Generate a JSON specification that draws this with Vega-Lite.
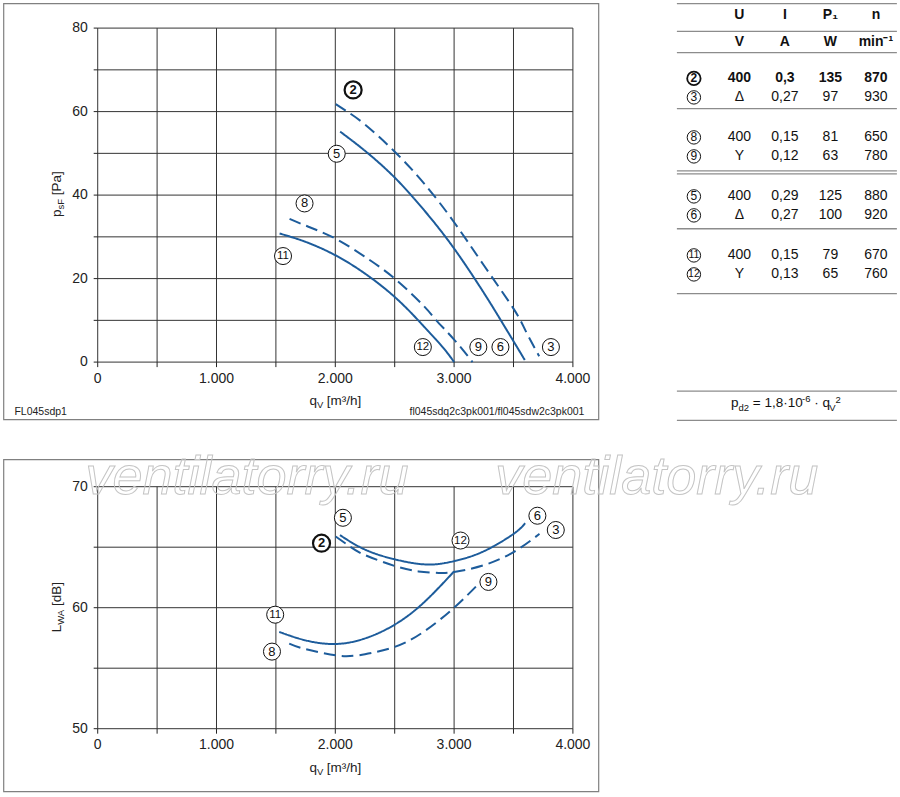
{
  "$schema": "https://vega.github.io/schema/vega-lite/v6.json",
  "background": "white",
  "padding": {"left": 2.4, "top": 2.4, "right": 2, "bottom": 2},
  "autosize": {"type": "pad"},
  "spacing": 29,
  "datasets": {
    "grid_q": [{"q": 0}, {"q": 500}, {"q": 1000}, {"q": 1500}, {"q": 2000}, {"q": 2500}, {"q": 3000}, {"q": 3500}, {"q": 4000}],
    "grid_p": [{"p": 0}, {"p": 10}, {"p": 20}, {"p": 30}, {"p": 40}, {"p": 50}, {"p": 60}, {"p": 70}, {"p": 80}],
    "grid_l": [{"L": 50}, {"L": 55}, {"L": 60}, {"L": 65}, {"L": 70}],
    "q_ticks": [{"q": 0, "label": "0"}, {"q": 1000, "label": "1.000"}, {"q": 2000, "label": "2.000"}, {"q": 3000, "label": "3.000"}, {"q": 4000, "label": "4.000"}],
    "p_ticks": [{"p": 0, "label": "0"}, {"p": 20, "label": "20"}, {"p": 40, "label": "40"}, {"p": 60, "label": "60"}, {"p": 80, "label": "80"}],
    "l_ticks": [{"L": 50, "label": "50"}, {"L": 60, "label": "60"}, {"L": 70, "label": "70"}],
    "pressure": [
      {"curve": "2-3", "model": "sdq", "q": 2004, "p": 61.8},
      {"curve": "2-3", "model": "sdq", "q": 2100, "p": 60.0},
      {"curve": "2-3", "model": "sdq", "q": 2250, "p": 56.9},
      {"curve": "2-3", "model": "sdq", "q": 2500, "p": 50.4},
      {"curve": "2-3", "model": "sdq", "q": 2750, "p": 42.7},
      {"curve": "2-3", "model": "sdq", "q": 3000, "p": 33.5},
      {"curve": "2-3", "model": "sdq", "q": 3250, "p": 23.2},
      {"curve": "2-3", "model": "sdq", "q": 3500, "p": 12.8},
      {"curve": "2-3", "model": "sdq", "q": 3600, "p": 7.6},
      {"curve": "2-3", "model": "sdq", "q": 3716, "p": 1.4},
      {"curve": "5-6", "model": "sdw", "q": 2041, "p": 55.2},
      {"curve": "5-6", "model": "sdw", "q": 2250, "p": 50.6},
      {"curve": "5-6", "model": "sdw", "q": 2500, "p": 44.2},
      {"curve": "5-6", "model": "sdw", "q": 2750, "p": 36.3},
      {"curve": "5-6", "model": "sdw", "q": 3000, "p": 27.2},
      {"curve": "5-6", "model": "sdw", "q": 3250, "p": 16.6},
      {"curve": "5-6", "model": "sdw", "q": 3400, "p": 9.7},
      {"curve": "5-6", "model": "sdw", "q": 3500, "p": 5.0},
      {"curve": "5-6", "model": "sdw", "q": 3595, "p": 0.5},
      {"curve": "8-9", "model": "sdq", "q": 1615, "p": 34.3},
      {"curve": "8-9", "model": "sdq", "q": 1750, "p": 32.7},
      {"curve": "8-9", "model": "sdq", "q": 2000, "p": 29.6},
      {"curve": "8-9", "model": "sdq", "q": 2250, "p": 25.2},
      {"curve": "8-9", "model": "sdq", "q": 2500, "p": 20.0},
      {"curve": "8-9", "model": "sdq", "q": 2750, "p": 13.3},
      {"curve": "8-9", "model": "sdq", "q": 2850, "p": 10.0},
      {"curve": "8-9", "model": "sdq", "q": 3000, "p": 5.4},
      {"curve": "8-9", "model": "sdq", "q": 3155, "p": 0.0},
      {"curve": "11-12", "model": "sdw", "q": 1531, "p": 30.8},
      {"curve": "11-12", "model": "sdw", "q": 1750, "p": 28.8},
      {"curve": "11-12", "model": "sdw", "q": 2000, "p": 25.6},
      {"curve": "11-12", "model": "sdw", "q": 2250, "p": 21.2},
      {"curve": "11-12", "model": "sdw", "q": 2500, "p": 15.6},
      {"curve": "11-12", "model": "sdw", "q": 2685, "p": 10.4},
      {"curve": "11-12", "model": "sdw", "q": 2750, "p": 8.4},
      {"curve": "11-12", "model": "sdw", "q": 2900, "p": 3.7},
      {"curve": "11-12", "model": "sdw", "q": 3000, "p": 0.0}
    ],
    "noise": [
      {"curve": "2-3", "model": "sdq", "q": 2003, "L": 65.88},
      {"curve": "2-3", "model": "sdq", "q": 2124, "L": 65.05},
      {"curve": "2-3", "model": "sdq", "q": 2250, "L": 64.35},
      {"curve": "2-3", "model": "sdq", "q": 2500, "L": 63.45},
      {"curve": "2-3", "model": "sdq", "q": 2700, "L": 63.0},
      {"curve": "2-3", "model": "sdq", "q": 2870, "L": 62.87},
      {"curve": "2-3", "model": "sdq", "q": 3000, "L": 62.95},
      {"curve": "2-3", "model": "sdq", "q": 3247, "L": 63.5},
      {"curve": "2-3", "model": "sdq", "q": 3500, "L": 64.6},
      {"curve": "2-3", "model": "sdq", "q": 3719, "L": 66.1},
      {"curve": "5-6", "model": "sdw", "q": 2039, "L": 66.0},
      {"curve": "5-6", "model": "sdw", "q": 2250, "L": 64.8},
      {"curve": "5-6", "model": "sdw", "q": 2500, "L": 64.0},
      {"curve": "5-6", "model": "sdw", "q": 2770, "L": 63.57},
      {"curve": "5-6", "model": "sdw", "q": 3000, "L": 63.85},
      {"curve": "5-6", "model": "sdw", "q": 3247, "L": 64.65},
      {"curve": "5-6", "model": "sdw", "q": 3500, "L": 66.1},
      {"curve": "5-6", "model": "sdw", "q": 3598, "L": 66.98},
      {"curve": "8-9", "model": "sdq", "q": 1612, "L": 57.03},
      {"curve": "8-9", "model": "sdq", "q": 1750, "L": 56.57},
      {"curve": "8-9", "model": "sdq", "q": 2003, "L": 56.07},
      {"curve": "8-9", "model": "sdq", "q": 2124, "L": 56.0},
      {"curve": "8-9", "model": "sdq", "q": 2250, "L": 56.15},
      {"curve": "8-9", "model": "sdq", "q": 2500, "L": 56.76},
      {"curve": "8-9", "model": "sdq", "q": 2742, "L": 58.0},
      {"curve": "8-9", "model": "sdq", "q": 3000, "L": 60.0},
      {"curve": "8-9", "model": "sdq", "q": 3219, "L": 62.1},
      {"curve": "11-12", "model": "sdw", "q": 1528, "L": 58.0},
      {"curve": "11-12", "model": "sdw", "q": 1750, "L": 57.3},
      {"curve": "11-12", "model": "sdw", "q": 2000, "L": 57.0},
      {"curve": "11-12", "model": "sdw", "q": 2250, "L": 57.46},
      {"curve": "11-12", "model": "sdw", "q": 2500, "L": 58.6},
      {"curve": "11-12", "model": "sdw", "q": 2742, "L": 60.4},
      {"curve": "11-12", "model": "sdw", "q": 3000, "L": 63.0}
    ],
    "p_labels": [
      {"id": "2", "q": 2150, "p": 65.2, "rated": "yes"},
      {"id": "5", "q": 2012, "p": 49.9, "rated": "no"},
      {"id": "8", "q": 1741, "p": 38.0, "rated": "no"},
      {"id": "11", "q": 1560, "p": 25.4, "rated": "no"},
      {"id": "12", "q": 2737, "p": 3.6, "rated": "no"},
      {"id": "9", "q": 3204, "p": 3.6, "rated": "no"},
      {"id": "6", "q": 3390, "p": 3.6, "rated": "no"},
      {"id": "3", "q": 3815, "p": 3.6, "rated": "no"}
    ],
    "l_labels": [
      {"id": "2", "q": 1884, "L": 65.33, "rated": "yes"},
      {"id": "5", "q": 2064, "L": 67.43, "rated": "no"},
      {"id": "12", "q": 3054, "L": 65.55, "rated": "no"},
      {"id": "6", "q": 3701, "L": 67.6, "rated": "no"},
      {"id": "3", "q": 3856, "L": 66.42, "rated": "no"},
      {"id": "9", "q": 3289, "L": 62.13, "rated": "no"},
      {"id": "11", "q": 1494, "L": 59.42, "rated": "no"},
      {"id": "8", "q": 1467, "L": 56.37, "rated": "no"}
    ],
    "p_xtitle": [
      {"text": "q", "q": 1782, "p": -10.3, "part": "main"},
      {"text": "V", "q": 1845, "p": -10.97, "part": "sub"},
      {"text": "[m³/h]", "q": 1927.5, "p": -10.3, "part": "main"}
    ],
    "p_ytitle": [
      {"text": "p", "q": -308, "p": 34.73, "part": "main"},
      {"text": "sF", "q": -287, "p": 36.53, "part": "sub"},
      {"text": "[Pa]", "q": -308, "p": 39.95, "part": "main"}
    ],
    "p_notes": [
      {"text": "FL045sdp1", "q": -701, "p": -12.65, "side": "left"},
      {"text": "fl045sdq2c3pk001/fl045sdw2c3pk001", "q": 4097, "p": -12.65, "side": "right"}
    ],
    "l_xtitle": [
      {"text": "q", "q": 1782, "L": 46.44, "part": "main"},
      {"text": "V", "q": 1845, "L": 46.21, "part": "sub"},
      {"text": "[m³/h]", "q": 1927.5, "L": 46.44, "part": "main"}
    ],
    "l_ytitle": [
      {"text": "L", "q": -308, "L": 57.96, "part": "main"},
      {"text": "WA", "q": -287, "L": 58.58, "part": "sub"},
      {"text": "[dB]", "q": -308, "L": 60.15, "part": "main"}
    ],
    "watermark": [
      {"text": "ventilatorry.ru", "q": -103.5, "L": 69.36},
      {"text": "ventilatorry.ru", "q": 3346, "L": 69.36}
    ],
    "table_lines": [{"r": -0.6}, {"r": 0.82}, {"r": 1.913}, {"r": 4.785}, {"r": 7.97}, {"r": 8.13}, {"r": 10.94}, {"r": 14.27}, {"r": 19.27}, {"r": 20.77}],
    "table_ids": [
      {"id": "2", "col": 0, "r": 3.231, "rated": "yes"},
      {"id": "3", "col": 0, "r": 4.205, "rated": "no"},
      {"id": "8", "col": 0, "r": 6.256, "rated": "no"},
      {"id": "9", "col": 0, "r": 7.231, "rated": "no"},
      {"id": "5", "col": 0, "r": 9.282, "rated": "no"},
      {"id": "6", "col": 0, "r": 10.256, "rated": "no"},
      {"id": "11", "col": 0, "r": 12.308, "rated": "no"},
      {"id": "12", "col": 0, "r": 13.282, "rated": "no"}
    ],
    "table_cells": [
      {"col": 1, "r": 0, "text": "U", "kind": "head"},
      {"col": 2, "r": 0, "text": "I", "kind": "head"},
      {"col": 3, "r": 0, "text": "P₁", "kind": "head"},
      {"col": 4, "r": 0, "text": "n", "kind": "head"},
      {"col": 1, "r": 1.385, "text": "V", "kind": "head"},
      {"col": 2, "r": 1.385, "text": "A", "kind": "head"},
      {"col": 3, "r": 1.385, "text": "W", "kind": "head"},
      {"col": 4, "r": 1.385, "text": "min⁻¹", "kind": "head"},
      {"col": 1, "r": 3.231, "text": "400", "kind": "rated"},
      {"col": 2, "r": 3.231, "text": "0,3", "kind": "rated"},
      {"col": 3, "r": 3.231, "text": "135", "kind": "rated"},
      {"col": 4, "r": 3.231, "text": "870", "kind": "rated"},
      {"col": 1, "r": 4.205, "text": "Δ", "kind": "plain"},
      {"col": 2, "r": 4.205, "text": "0,27", "kind": "plain"},
      {"col": 3, "r": 4.205, "text": "97", "kind": "plain"},
      {"col": 4, "r": 4.205, "text": "930", "kind": "plain"},
      {"col": 1, "r": 6.256, "text": "400", "kind": "plain"},
      {"col": 2, "r": 6.256, "text": "0,15", "kind": "plain"},
      {"col": 3, "r": 6.256, "text": "81", "kind": "plain"},
      {"col": 4, "r": 6.256, "text": "650", "kind": "plain"},
      {"col": 1, "r": 7.231, "text": "Y", "kind": "plain"},
      {"col": 2, "r": 7.231, "text": "0,12", "kind": "plain"},
      {"col": 3, "r": 7.231, "text": "63", "kind": "plain"},
      {"col": 4, "r": 7.231, "text": "780", "kind": "plain"},
      {"col": 1, "r": 9.282, "text": "400", "kind": "plain"},
      {"col": 2, "r": 9.282, "text": "0,29", "kind": "plain"},
      {"col": 3, "r": 9.282, "text": "125", "kind": "plain"},
      {"col": 4, "r": 9.282, "text": "880", "kind": "plain"},
      {"col": 1, "r": 10.256, "text": "Δ", "kind": "plain"},
      {"col": 2, "r": 10.256, "text": "0,27", "kind": "plain"},
      {"col": 3, "r": 10.256, "text": "100", "kind": "plain"},
      {"col": 4, "r": 10.256, "text": "920", "kind": "plain"},
      {"col": 1, "r": 12.308, "text": "400", "kind": "plain"},
      {"col": 2, "r": 12.308, "text": "0,15", "kind": "plain"},
      {"col": 3, "r": 12.308, "text": "79", "kind": "plain"},
      {"col": 4, "r": 12.308, "text": "670", "kind": "plain"},
      {"col": 1, "r": 13.282, "text": "Y", "kind": "plain"},
      {"col": 2, "r": 13.282, "text": "0,13", "kind": "plain"},
      {"col": 3, "r": 13.282, "text": "65", "kind": "plain"},
      {"col": 4, "r": 13.282, "text": "760", "kind": "plain"}
    ],
    "formula": [
      {"text": "p", "col": 0.813, "r": 20.1, "part": "main"},
      {"text": "d2", "col": 0.978, "r": 20.29, "part": "sub"},
      {"text": "= 1,8·10", "col": 1.295, "r": 20.1, "part": "main"},
      {"text": "-6", "col": 2.376, "r": 19.8, "part": "sub"},
      {"text": "· q", "col": 2.644, "r": 20.1, "part": "main"},
      {"text": "V", "col": 2.974, "r": 20.29, "part": "sub"},
      {"text": "2", "col": 3.112, "r": 19.88, "part": "sub"}
    ]
  },
  "vconcat": [
    {
      "spacing": 76.5,
      "hconcat": [
        {
          "width": 595,
          "height": 416,
          "layer": [
            {"data": {"name": "grid_q"}, "mark": {"type": "rule", "color": "#333333", "strokeWidth": 1},
              "encoding": {
                "x": {"field": "q", "type": "quantitative", "scale": {"domain": [-793.8, 4214.6], "nice": false, "zero": false}, "axis": null},
                "y": {"datum": 0, "type": "quantitative", "scale": {"domain": [-13.725, 85.916], "nice": false, "zero": false}, "axis": null},
                "y2": {"datum": 80}}},
            {"data": {"name": "grid_p"}, "mark": {"type": "rule", "color": "#333333", "strokeWidth": 1},
              "encoding": {
                "y": {"field": "p", "type": "quantitative", "scale": {"domain": [-13.725, 85.916], "nice": false, "zero": false}, "axis": null},
                "x": {"datum": 0, "type": "quantitative", "scale": {"domain": [-793.8, 4214.6], "nice": false, "zero": false}, "axis": null},
                "x2": {"datum": 4000}}},
            {"data": {"name": "grid_q"}, "mark": {"type": "rule", "color": "#222222", "strokeWidth": 1},
              "encoding": {
                "x": {"field": "q", "type": "quantitative", "scale": {"domain": [-793.8, 4214.6], "nice": false, "zero": false}, "axis": null},
                "y": {"datum": 0, "type": "quantitative", "scale": {"domain": [-13.725, 85.916], "nice": false, "zero": false}, "axis": null},
                "y2": {"datum": -1.2}}},
            {"data": {"name": "grid_p"}, "mark": {"type": "rule", "color": "#222222", "strokeWidth": 1},
              "encoding": {
                "y": {"field": "p", "type": "quantitative", "scale": {"domain": [-13.725, 85.916], "nice": false, "zero": false}, "axis": null},
                "x": {"datum": 0, "type": "quantitative", "scale": {"domain": [-793.8, 4214.6], "nice": false, "zero": false}, "axis": null},
                "x2": {"datum": -33.7}}},
            {"data": {"name": "q_ticks"}, "mark": {"type": "text", "fontSize": 14, "color": "#222222", "align": "center", "baseline": "middle"},
              "encoding": {
                "x": {"field": "q", "type": "quantitative", "scale": {"domain": [-793.8, 4214.6], "nice": false, "zero": false}, "axis": null},
                "y": {"datum": -4.14, "type": "quantitative", "scale": {"domain": [-13.725, 85.916], "nice": false, "zero": false}, "axis": null},
                "text": {"field": "label"}}},
            {"data": {"name": "p_ticks"}, "mark": {"type": "text", "fontSize": 14, "color": "#222222", "align": "right", "baseline": "middle"},
              "encoding": {
                "y": {"field": "p", "type": "quantitative", "scale": {"domain": [-13.725, 85.916], "nice": false, "zero": false}, "axis": null},
                "x": {"datum": -84.2, "type": "quantitative", "scale": {"domain": [-793.8, 4214.6], "nice": false, "zero": false}, "axis": null},
                "text": {"field": "label"}}},
            {"data": {"name": "pressure"}, "mark": {"type": "line", "interpolate": "natural", "color": "#1d5c9b", "strokeWidth": 2},
              "encoding": {
                "x": {"field": "q", "type": "quantitative", "scale": {"domain": [-793.8, 4214.6], "nice": false, "zero": false}, "axis": null},
                "y": {"field": "p", "type": "quantitative", "scale": {"domain": [-13.725, 85.916], "nice": false, "zero": false}, "axis": null},
                "detail": {"field": "curve", "type": "nominal"},
                "strokeDash": {"field": "model", "type": "nominal", "scale": {"domain": ["sdq", "sdw"], "range": [[12, 6], [1, 0]]}, "legend": null}}},
            {"data": {"name": "p_labels"}, "transform": [{"filter": "datum.rated == 'no'"}],
              "mark": {"type": "point", "shape": "circle", "filled": true, "fill": "white", "stroke": "#111111", "strokeWidth": 1, "size": 290, "opacity": 1},
              "encoding": {
                "x": {"field": "q", "type": "quantitative", "scale": {"domain": [-793.8, 4214.6], "nice": false, "zero": false}, "axis": null},
                "y": {"field": "p", "type": "quantitative", "scale": {"domain": [-13.725, 85.916], "nice": false, "zero": false}, "axis": null}}},
            {"data": {"name": "p_labels"}, "transform": [{"filter": "datum.rated == 'yes'"}],
              "mark": {"type": "point", "shape": "circle", "filled": true, "fill": "white", "stroke": "#111111", "strokeWidth": 2.2, "size": 290, "opacity": 1},
              "encoding": {
                "x": {"field": "q", "type": "quantitative", "scale": {"domain": [-793.8, 4214.6], "nice": false, "zero": false}, "axis": null},
                "y": {"field": "p", "type": "quantitative", "scale": {"domain": [-13.725, 85.916], "nice": false, "zero": false}, "axis": null}}},
            {"data": {"name": "p_labels"}, "transform": [{"filter": "datum.rated == 'no' && length(datum.id) == 1"}],
              "mark": {"type": "text", "fontSize": 13, "color": "#111111", "align": "center", "baseline": "middle"},
              "encoding": {
                "x": {"field": "q", "type": "quantitative", "scale": {"domain": [-793.8, 4214.6], "nice": false, "zero": false}, "axis": null},
                "y": {"field": "p", "type": "quantitative", "scale": {"domain": [-13.725, 85.916], "nice": false, "zero": false}, "axis": null},
                "text": {"field": "id"}}},
            {"data": {"name": "p_labels"}, "transform": [{"filter": "length(datum.id) == 2"}],
              "mark": {"type": "text", "fontSize": 11.5, "color": "#111111", "align": "center", "baseline": "middle"},
              "encoding": {
                "x": {"field": "q", "type": "quantitative", "scale": {"domain": [-793.8, 4214.6], "nice": false, "zero": false}, "axis": null},
                "y": {"field": "p", "type": "quantitative", "scale": {"domain": [-13.725, 85.916], "nice": false, "zero": false}, "axis": null},
                "text": {"field": "id"}}},
            {"data": {"name": "p_labels"}, "transform": [{"filter": "datum.rated == 'yes'"}],
              "mark": {"type": "text", "fontSize": 13, "fontWeight": "bold", "color": "#111111", "align": "center", "baseline": "middle"},
              "encoding": {
                "x": {"field": "q", "type": "quantitative", "scale": {"domain": [-793.8, 4214.6], "nice": false, "zero": false}, "axis": null},
                "y": {"field": "p", "type": "quantitative", "scale": {"domain": [-13.725, 85.916], "nice": false, "zero": false}, "axis": null},
                "text": {"field": "id"}}},
            {"data": {"name": "p_xtitle"}, "transform": [{"filter": "datum.part == 'main'"}],
              "mark": {"type": "text", "fontSize": 13.5, "color": "#222222", "align": "left", "baseline": "alphabetic"},
              "encoding": {
                "x": {"field": "q", "type": "quantitative", "scale": {"domain": [-793.8, 4214.6], "nice": false, "zero": false}, "axis": null},
                "y": {"field": "p", "type": "quantitative", "scale": {"domain": [-13.725, 85.916], "nice": false, "zero": false}, "axis": null},
                "text": {"field": "text"}}},
            {"data": {"name": "p_xtitle"}, "transform": [{"filter": "datum.part == 'sub'"}],
              "mark": {"type": "text", "fontSize": 9.5, "color": "#222222", "align": "left", "baseline": "alphabetic"},
              "encoding": {
                "x": {"field": "q", "type": "quantitative", "scale": {"domain": [-793.8, 4214.6], "nice": false, "zero": false}, "axis": null},
                "y": {"field": "p", "type": "quantitative", "scale": {"domain": [-13.725, 85.916], "nice": false, "zero": false}, "axis": null},
                "text": {"field": "text"}}},
            {"data": {"name": "p_ytitle"}, "transform": [{"filter": "datum.part == 'main'"}],
              "mark": {"type": "text", "fontSize": 13.5, "angle": 270, "color": "#222222", "align": "left", "baseline": "alphabetic"},
              "encoding": {
                "x": {"field": "q", "type": "quantitative", "scale": {"domain": [-793.8, 4214.6], "nice": false, "zero": false}, "axis": null},
                "y": {"field": "p", "type": "quantitative", "scale": {"domain": [-13.725, 85.916], "nice": false, "zero": false}, "axis": null},
                "text": {"field": "text"}}},
            {"data": {"name": "p_ytitle"}, "transform": [{"filter": "datum.part == 'sub'"}],
              "mark": {"type": "text", "fontSize": 9.5, "angle": 270, "color": "#222222", "align": "left", "baseline": "alphabetic"},
              "encoding": {
                "x": {"field": "q", "type": "quantitative", "scale": {"domain": [-793.8, 4214.6], "nice": false, "zero": false}, "axis": null},
                "y": {"field": "p", "type": "quantitative", "scale": {"domain": [-13.725, 85.916], "nice": false, "zero": false}, "axis": null},
                "text": {"field": "text"}}},
            {"data": {"name": "p_notes"}, "transform": [{"filter": "datum.side == 'left'"}],
              "mark": {"type": "text", "fontSize": 10.5, "color": "#222222", "align": "left", "baseline": "alphabetic"},
              "encoding": {
                "x": {"field": "q", "type": "quantitative", "scale": {"domain": [-793.8, 4214.6], "nice": false, "zero": false}, "axis": null},
                "y": {"field": "p", "type": "quantitative", "scale": {"domain": [-13.725, 85.916], "nice": false, "zero": false}, "axis": null},
                "text": {"field": "text"}}},
            {"data": {"name": "p_notes"}, "transform": [{"filter": "datum.side == 'right'"}],
              "mark": {"type": "text", "fontSize": 10.5, "color": "#222222", "align": "right", "baseline": "alphabetic"},
              "encoding": {
                "x": {"field": "q", "type": "quantitative", "scale": {"domain": [-793.8, 4214.6], "nice": false, "zero": false}, "axis": null},
                "y": {"field": "p", "type": "quantitative", "scale": {"domain": [-13.725, 85.916], "nice": false, "zero": false}, "axis": null},
                "text": {"field": "text"}}}
          ]
        },
        {
          "width": 220,
          "height": 418,
          "view": {"stroke": null},
          "layer": [
            {"data": {"name": "table_lines"}, "mark": {"type": "rule", "color": "#8c8c8c", "strokeWidth": 1.3},
              "encoding": {"y": {"field": "r", "type": "quantitative", "scale": {"domain": [-0.6154, 20.82], "nice": false, "zero": false, "reverse": true}, "axis": null}}},
            {"data": {"name": "table_ids"}, "transform": [{"filter": "datum.rated == 'no'"}],
              "mark": {"type": "point", "shape": "circle", "filled": true, "fill": "white", "stroke": "#111111", "strokeWidth": 1, "size": 180, "opacity": 1},
              "encoding": {
                "x": {"field": "col", "type": "quantitative", "scale": {"domain": [-0.3736, 4.4615], "nice": false, "zero": false}, "axis": null},
                "y": {"field": "r", "type": "quantitative", "scale": {"domain": [-0.6154, 20.82], "nice": false, "zero": false, "reverse": true}, "axis": null}}},
            {"data": {"name": "table_ids"}, "transform": [{"filter": "datum.rated == 'yes'"}],
              "mark": {"type": "point", "shape": "circle", "filled": true, "fill": "white", "stroke": "#111111", "strokeWidth": 1.8, "size": 180, "opacity": 1},
              "encoding": {
                "x": {"field": "col", "type": "quantitative", "scale": {"domain": [-0.3736, 4.4615], "nice": false, "zero": false}, "axis": null},
                "y": {"field": "r", "type": "quantitative", "scale": {"domain": [-0.6154, 20.82], "nice": false, "zero": false, "reverse": true}, "axis": null}}},
            {"data": {"name": "table_ids"}, "transform": [{"filter": "datum.rated == 'no' && length(datum.id) == 1"}],
              "mark": {"type": "text", "fontSize": 12, "color": "#111111", "align": "center", "baseline": "middle"},
              "encoding": {
                "x": {"field": "col", "type": "quantitative", "scale": {"domain": [-0.3736, 4.4615], "nice": false, "zero": false}, "axis": null},
                "y": {"field": "r", "type": "quantitative", "scale": {"domain": [-0.6154, 20.82], "nice": false, "zero": false, "reverse": true}, "axis": null},
                "text": {"field": "id"}}},
            {"data": {"name": "table_ids"}, "transform": [{"filter": "length(datum.id) == 2"}],
              "mark": {"type": "text", "fontSize": 10.5, "color": "#111111", "align": "center", "baseline": "middle"},
              "encoding": {
                "x": {"field": "col", "type": "quantitative", "scale": {"domain": [-0.3736, 4.4615], "nice": false, "zero": false}, "axis": null},
                "y": {"field": "r", "type": "quantitative", "scale": {"domain": [-0.6154, 20.82], "nice": false, "zero": false, "reverse": true}, "axis": null},
                "text": {"field": "id"}}},
            {"data": {"name": "table_ids"}, "transform": [{"filter": "datum.rated == 'yes'"}],
              "mark": {"type": "text", "fontSize": 12, "fontWeight": "bold", "color": "#111111", "align": "center", "baseline": "middle"},
              "encoding": {
                "x": {"field": "col", "type": "quantitative", "scale": {"domain": [-0.3736, 4.4615], "nice": false, "zero": false}, "axis": null},
                "y": {"field": "r", "type": "quantitative", "scale": {"domain": [-0.6154, 20.82], "nice": false, "zero": false, "reverse": true}, "axis": null},
                "text": {"field": "id"}}},
            {"data": {"name": "table_cells"}, "transform": [{"filter": "datum.kind == 'plain'"}],
              "mark": {"type": "text", "fontSize": 14, "color": "#111111", "align": "center", "baseline": "middle"},
              "encoding": {
                "x": {"field": "col", "type": "quantitative", "scale": {"domain": [-0.3736, 4.4615], "nice": false, "zero": false}, "axis": null},
                "y": {"field": "r", "type": "quantitative", "scale": {"domain": [-0.6154, 20.82], "nice": false, "zero": false, "reverse": true}, "axis": null},
                "text": {"field": "text"}}},
            {"data": {"name": "table_cells"}, "transform": [{"filter": "datum.kind != 'plain'"}],
              "mark": {"type": "text", "fontSize": 14, "fontWeight": "bold", "color": "#111111", "align": "center", "baseline": "middle"},
              "encoding": {
                "x": {"field": "col", "type": "quantitative", "scale": {"domain": [-0.3736, 4.4615], "nice": false, "zero": false}, "axis": null},
                "y": {"field": "r", "type": "quantitative", "scale": {"domain": [-0.6154, 20.82], "nice": false, "zero": false, "reverse": true}, "axis": null},
                "text": {"field": "text"}}},
            {"data": {"name": "formula"}, "transform": [{"filter": "datum.part == 'main'"}],
              "mark": {"type": "text", "fontSize": 13.5, "color": "#111111", "align": "left", "baseline": "alphabetic"},
              "encoding": {
                "x": {"field": "col", "type": "quantitative", "scale": {"domain": [-0.3736, 4.4615], "nice": false, "zero": false}, "axis": null},
                "y": {"field": "r", "type": "quantitative", "scale": {"domain": [-0.6154, 20.82], "nice": false, "zero": false, "reverse": true}, "axis": null},
                "text": {"field": "text"}}},
            {"data": {"name": "formula"}, "transform": [{"filter": "datum.part == 'sub'"}],
              "mark": {"type": "text", "fontSize": 9.5, "color": "#111111", "align": "left", "baseline": "alphabetic"},
              "encoding": {
                "x": {"field": "col", "type": "quantitative", "scale": {"domain": [-0.3736, 4.4615], "nice": false, "zero": false}, "axis": null},
                "y": {"field": "r", "type": "quantitative", "scale": {"domain": [-0.6154, 20.82], "nice": false, "zero": false, "reverse": true}, "axis": null},
                "text": {"field": "text"}}}
          ]
        }
      ]
    },
    {
      "width": 595,
      "height": 332,
      "layer": [
        {"data": {"name": "grid_q"}, "mark": {"type": "rule", "color": "#333333", "strokeWidth": 1},
          "encoding": {
            "x": {"field": "q", "type": "quantitative", "scale": {"domain": [-793.8, 4214.6], "nice": false, "zero": false}, "axis": null},
            "y": {"datum": 50, "type": "quantitative", "scale": {"domain": [44.818, 72.256], "nice": false, "zero": false}, "axis": null},
            "y2": {"datum": 70}}},
        {"data": {"name": "grid_l"}, "mark": {"type": "rule", "color": "#333333", "strokeWidth": 1},
          "encoding": {
            "y": {"field": "L", "type": "quantitative", "scale": {"domain": [44.818, 72.256], "nice": false, "zero": false}, "axis": null},
            "x": {"datum": 0, "type": "quantitative", "scale": {"domain": [-793.8, 4214.6], "nice": false, "zero": false}, "axis": null},
            "x2": {"datum": 4000}}},
        {"data": {"name": "grid_q"}, "mark": {"type": "rule", "color": "#222222", "strokeWidth": 1},
          "encoding": {
            "x": {"field": "q", "type": "quantitative", "scale": {"domain": [-793.8, 4214.6], "nice": false, "zero": false}, "axis": null},
            "y": {"datum": 50, "type": "quantitative", "scale": {"domain": [44.818, 72.256], "nice": false, "zero": false}, "axis": null},
            "y2": {"datum": 49.587}}},
        {"data": {"name": "grid_l"}, "mark": {"type": "rule", "color": "#222222", "strokeWidth": 1},
          "encoding": {
            "y": {"field": "L", "type": "quantitative", "scale": {"domain": [44.818, 72.256], "nice": false, "zero": false}, "axis": null},
            "x": {"datum": 0, "type": "quantitative", "scale": {"domain": [-793.8, 4214.6], "nice": false, "zero": false}, "axis": null},
            "x2": {"datum": -33.7}}},
        {"data": {"name": "q_ticks"}, "mark": {"type": "text", "fontSize": 14, "color": "#222222", "align": "center", "baseline": "middle"},
          "encoding": {
            "x": {"field": "q", "type": "quantitative", "scale": {"domain": [-793.8, 4214.6], "nice": false, "zero": false}, "axis": null},
            "y": {"datum": 48.62, "type": "quantitative", "scale": {"domain": [44.818, 72.256], "nice": false, "zero": false}, "axis": null},
            "text": {"field": "label"}}},
        {"data": {"name": "l_ticks"}, "mark": {"type": "text", "fontSize": 14, "color": "#222222", "align": "right", "baseline": "middle"},
          "encoding": {
            "y": {"field": "L", "type": "quantitative", "scale": {"domain": [44.818, 72.256], "nice": false, "zero": false}, "axis": null},
            "x": {"datum": -84.2, "type": "quantitative", "scale": {"domain": [-793.8, 4214.6], "nice": false, "zero": false}, "axis": null},
            "text": {"field": "label"}}},
        {"data": {"name": "noise"}, "mark": {"type": "line", "interpolate": "natural", "color": "#1d5c9b", "strokeWidth": 2},
          "encoding": {
            "x": {"field": "q", "type": "quantitative", "scale": {"domain": [-793.8, 4214.6], "nice": false, "zero": false}, "axis": null},
            "y": {"field": "L", "type": "quantitative", "scale": {"domain": [44.818, 72.256], "nice": false, "zero": false}, "axis": null},
            "detail": {"field": "curve", "type": "nominal"},
            "strokeDash": {"field": "model", "type": "nominal", "scale": {"domain": ["sdq", "sdw"], "range": [[12, 6], [1, 0]]}, "legend": null}}},
        {"data": {"name": "l_labels"}, "transform": [{"filter": "datum.rated == 'no'"}],
          "mark": {"type": "point", "shape": "circle", "filled": true, "fill": "white", "stroke": "#111111", "strokeWidth": 1, "size": 290, "opacity": 1},
          "encoding": {
            "x": {"field": "q", "type": "quantitative", "scale": {"domain": [-793.8, 4214.6], "nice": false, "zero": false}, "axis": null},
            "y": {"field": "L", "type": "quantitative", "scale": {"domain": [44.818, 72.256], "nice": false, "zero": false}, "axis": null}}},
        {"data": {"name": "l_labels"}, "transform": [{"filter": "datum.rated == 'yes'"}],
          "mark": {"type": "point", "shape": "circle", "filled": true, "fill": "white", "stroke": "#111111", "strokeWidth": 2.2, "size": 290, "opacity": 1},
          "encoding": {
            "x": {"field": "q", "type": "quantitative", "scale": {"domain": [-793.8, 4214.6], "nice": false, "zero": false}, "axis": null},
            "y": {"field": "L", "type": "quantitative", "scale": {"domain": [44.818, 72.256], "nice": false, "zero": false}, "axis": null}}},
        {"data": {"name": "l_labels"}, "transform": [{"filter": "datum.rated == 'no' && length(datum.id) == 1"}],
          "mark": {"type": "text", "fontSize": 13, "color": "#111111", "align": "center", "baseline": "middle"},
          "encoding": {
            "x": {"field": "q", "type": "quantitative", "scale": {"domain": [-793.8, 4214.6], "nice": false, "zero": false}, "axis": null},
            "y": {"field": "L", "type": "quantitative", "scale": {"domain": [44.818, 72.256], "nice": false, "zero": false}, "axis": null},
            "text": {"field": "id"}}},
        {"data": {"name": "l_labels"}, "transform": [{"filter": "length(datum.id) == 2"}],
          "mark": {"type": "text", "fontSize": 11.5, "color": "#111111", "align": "center", "baseline": "middle"},
          "encoding": {
            "x": {"field": "q", "type": "quantitative", "scale": {"domain": [-793.8, 4214.6], "nice": false, "zero": false}, "axis": null},
            "y": {"field": "L", "type": "quantitative", "scale": {"domain": [44.818, 72.256], "nice": false, "zero": false}, "axis": null},
            "text": {"field": "id"}}},
        {"data": {"name": "l_labels"}, "transform": [{"filter": "datum.rated == 'yes'"}],
          "mark": {"type": "text", "fontSize": 13, "fontWeight": "bold", "color": "#111111", "align": "center", "baseline": "middle"},
          "encoding": {
            "x": {"field": "q", "type": "quantitative", "scale": {"domain": [-793.8, 4214.6], "nice": false, "zero": false}, "axis": null},
            "y": {"field": "L", "type": "quantitative", "scale": {"domain": [44.818, 72.256], "nice": false, "zero": false}, "axis": null},
            "text": {"field": "id"}}},
        {"data": {"name": "l_xtitle"}, "transform": [{"filter": "datum.part == 'main'"}],
          "mark": {"type": "text", "fontSize": 13.5, "color": "#222222", "align": "left", "baseline": "alphabetic"},
          "encoding": {
            "x": {"field": "q", "type": "quantitative", "scale": {"domain": [-793.8, 4214.6], "nice": false, "zero": false}, "axis": null},
            "y": {"field": "L", "type": "quantitative", "scale": {"domain": [44.818, 72.256], "nice": false, "zero": false}, "axis": null},
            "text": {"field": "text"}}},
        {"data": {"name": "l_xtitle"}, "transform": [{"filter": "datum.part == 'sub'"}],
          "mark": {"type": "text", "fontSize": 9.5, "color": "#222222", "align": "left", "baseline": "alphabetic"},
          "encoding": {
            "x": {"field": "q", "type": "quantitative", "scale": {"domain": [-793.8, 4214.6], "nice": false, "zero": false}, "axis": null},
            "y": {"field": "L", "type": "quantitative", "scale": {"domain": [44.818, 72.256], "nice": false, "zero": false}, "axis": null},
            "text": {"field": "text"}}},
        {"data": {"name": "l_ytitle"}, "transform": [{"filter": "datum.part == 'main'"}],
          "mark": {"type": "text", "fontSize": 13.5, "angle": 270, "color": "#222222", "align": "left", "baseline": "alphabetic"},
          "encoding": {
            "x": {"field": "q", "type": "quantitative", "scale": {"domain": [-793.8, 4214.6], "nice": false, "zero": false}, "axis": null},
            "y": {"field": "L", "type": "quantitative", "scale": {"domain": [44.818, 72.256], "nice": false, "zero": false}, "axis": null},
            "text": {"field": "text"}}},
        {"data": {"name": "l_ytitle"}, "transform": [{"filter": "datum.part == 'sub'"}],
          "mark": {"type": "text", "fontSize": 9.5, "angle": 270, "color": "#222222", "align": "left", "baseline": "alphabetic"},
          "encoding": {
            "x": {"field": "q", "type": "quantitative", "scale": {"domain": [-793.8, 4214.6], "nice": false, "zero": false}, "axis": null},
            "y": {"field": "L", "type": "quantitative", "scale": {"domain": [44.818, 72.256], "nice": false, "zero": false}, "axis": null},
            "text": {"field": "text"}}},
        {"data": {"name": "watermark"},
          "mark": {"type": "text", "fontSize": 54, "fontStyle": "italic", "fill": "transparent", "stroke": "#c4c4c4", "strokeWidth": 1, "align": "left", "baseline": "alphabetic"},
          "encoding": {
            "x": {"field": "q", "type": "quantitative", "scale": {"domain": [-793.8, 4214.6], "nice": false, "zero": false}, "axis": null},
            "y": {"field": "L", "type": "quantitative", "scale": {"domain": [44.818, 72.256], "nice": false, "zero": false}, "axis": null},
            "text": {"field": "text"}}}
      ]
    }
  ],
  "config": {
    "font": "Liberation Sans",
    "view": {"stroke": "#808080", "strokeWidth": 1.2},
    "text": {"font": "Liberation Sans"}
  }
}
